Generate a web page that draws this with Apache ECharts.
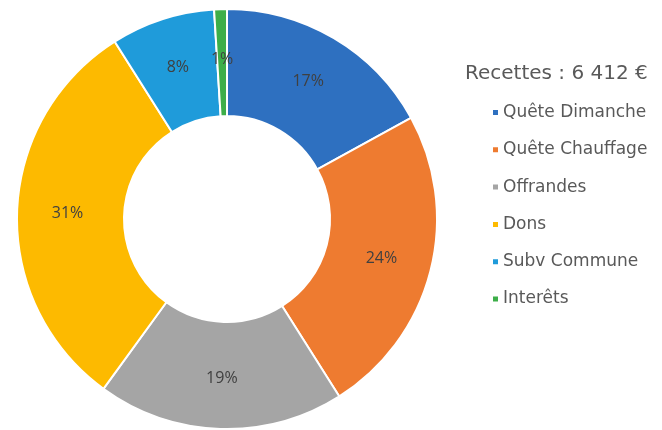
<!DOCTYPE html>
<html>
<head>
<meta charset="utf-8">
<script src="https://cdn.jsdelivr.net/npm/echarts@6/dist/echarts.min.js"></script>
<style>
  html, body { margin: 0; padding: 0; background: #fff; }
  #chart { width: 662px; height: 430px; }
</style>
</head>
<body>
<div id="chart"></div>
<script>
// Recettes par poste (€), total 6 412 €
const categories = ['Quête Dimanche', 'Quête Chauffage', 'Offrandes', 'Dons', 'Subv Commune', 'Interêts']
const amounts = [1090, 1540, 1218, 1988, 513, 63]
const colors = ['#2E70C0', '#EE7B30', '#A5A5A5', '#FDBA00', '#1F9BDA', '#3DAE49']
const titleText = 'Recettes : 6 412 €'

const chart = echarts.init(document.getElementById('chart'))

const option = {
  animation: false,
  title: {
    text: titleText,
    left: 460,
    top: 59,
    textStyle: {
      fontFamily: 'DejaVu Sans',
      fontSize: 20,
      fontWeight: 'normal',
      color: '#595959'
    }
  },
  legend: {
    orient: 'vertical',
    left: 486,
    top: 99,
    itemWidth: 7,
    itemHeight: 7,
    itemGap: 20.3,
    icon: 'rect',
    textStyle: {
      fontFamily: 'DejaVu Sans',
      fontSize: 17,
      color: '#595959',
      padding: [0, 0, 0, -1]
    },
    data: categories
  },
  series: [{
    type: 'pie',
    center: [227, 219],
    radius: [103, 210],
    startAngle: 90,
    clockwise: true,
    avoidLabelOverlap: false,
    itemStyle: {
      borderColor: '#fff',
      borderWidth: 2
    },
    label: {
      show: true,
      position: 'inside',
      fontFamily: 'Open Sans',
      fontSize: 16,
      color: '#404040',
      formatter: p => Math.round(p.percent) + '%'
    },
    labelLine: { show: false },
    data: categories.map((name, i) => ({
      name,
      value: amounts[i],
      itemStyle: { color: colors[i] }
    }))
  }]
}

chart.setOption(option)
</script>
</body>
</html>
